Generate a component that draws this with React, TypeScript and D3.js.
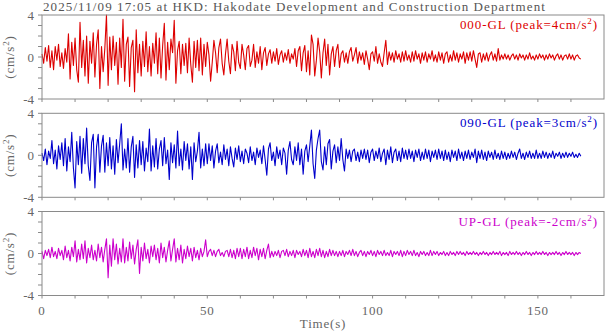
import React from 'react';
import * as d3 from 'd3';

// sample interval of the traces (s)
const dt = 0.5;

const title = '2025/11/09 17:05 at HKD: Hakodate Development and Construction Department';
const components = ['000-GL', '090-GL', 'UP-GL'];
const peaks = ['4', '3', '-2'];
const colors = ['#dd0000', '#0000cc', '#cc00cc'];
const xTickLabels = [0, 50, 100, 150];
const yTickLabels = [-4, 0, 4];

const ns = [
  0.3, -0.6, 0.9, -0.4, 1.1, -1.0, 0.6, -1.2, 1.0, -0.3, 1.2, -0.9, 0.4, -1.1, 0.8, -0.5, 2.2, -2.1, 1.4, -0.8,
  1.8, -1.2, -2.4, 3.3, -1.0, 1.6, -1.8, 2.0, -2.5, 1.5, -0.6, 2.3, -1.9, 1.2, 2.6, -3.0, 1.0, -1.4, 0.8, 4.0,
  -2.7, 1.9, -1.2, 2.0, -0.8, 1.4, -2.6, 1.8, -1.0, 3.6, -2.3, 1.2, 1.9, -2.8, 0.9, 1.6, -3.3, 2.6, -1.5, 1.2,
  -1.8, 1.5, -0.9, 2.4, -1.4, 1.0, -1.8, 1.3, -0.6, 2.3, -1.6, 1.8, -2.0, 1.1, 3.2, -2.2, 1.4, -1.2, 1.7, 0.4,
  3.5, -2.5, 0.6, 1.5, -1.6, 1.2, -0.8, 1.3, -1.5, 1.8, -0.7, -2.4, 1.5, -1.0, 1.6, -1.3, 1.8, -1.7, 1.2, -0.9,
  1.4, 0.2, -2.3, -0.5, 1.6, 0.4, -1.5, 0.9, 1.7, -0.6, -1.7, 0.3, 1.7, -0.4, -1.6, 1.2, 0.5, -1.3, 1.5, -0.5,
  -1.1, 1.2, 0.2, -1.2, 0.8, 1.1, -0.9, -0.3, 1.2, -1.0, 0.5, -0.6, 1.0, -1.2, 0.4, 0.9, -0.8, 0.3, 0.7, -0.6,
  0.5, -0.4, 0.8, -0.7, 0.2, 0.6, -0.5, 0.4, -0.3, 0.7, -0.6, 0.3, -0.2, 0.8, -0.9, 0.6, 1.0, -1.3, 0.4, 1.1,
  -1.4, 0.6, -1.7, 2.1, 1.2, -1.8, -0.3, 1.8, 0.5, -2.0, 0.4, 1.7, -0.8, 1.2, -1.7, 0.3, 1.0, -0.9, 0.6, 1.2,
  -1.0, 0.3, 0.6, -0.5, 0.4, -0.6, 0.5, 0.9, -0.4, 0.2, 0.9, -0.6, 0.5, -0.3, 0.4, -0.7, 0.6, -0.2, -1.2, 0.3,
  0.5, -0.4, 1.0, -0.6, 0.3, -0.5, -0.9, 0.4, 1.6, -0.7, 0.5, -0.3, 0.4, -0.5, 0.6, -0.2, 0.3, -0.5, 0.5, -0.4,
  0.6, -0.3, 0.2, -0.5, 0.5, -0.4, 0.6, -0.2, 0.3, -0.6, 0.4, -0.3, 0.5, -0.5, 0.3, -0.2, 0.6, -0.4, 0.2, -0.5,
  0.5, -0.3, 0.4, -0.6, 0.3, 0.5, -0.5, 0.2, -0.4, 0.6, -0.3, 0.4, -0.5, 0.3, -0.2, 0.5, -0.6, 0.4, -0.3, 0.5,
  -0.4, 0.6, -0.2, -1.0, 0.3, 0.4, -0.5, 0.3, -0.3, 0.4, -0.4, 0.2, 0.5, -0.3, 0.3, -0.4, 0.8, -0.3, 0.2, -0.2,
  0.3, -0.2, 0.2, -0.3, 0.1, 0.3, -0.2, 0.2, -0.3, 0.3, -0.1, 0.2, -0.3, 0.2, -0.2, 0.4, -0.2, 0.1, -0.3, 0.2,
  -0.2, 0.3, -0.1, 0.2, -0.3, 0.2, -0.2, 0.3, -0.1, 0.2, -0.3, 0.1, 0.3, -0.2, 0.2, -0.3, 0.1, 0.2, -0.2, 0.3,
  -0.2, 0.2, -0.3, 0.1, 0.2, -0.1, -0.2,
];

const ew = [
  0.2, -0.5, 0.6, -0.9, 0.4, -0.3, 1.4, -0.8, 0.5, -1.3, 0.9, -0.4, 1.2, -1.0, 1.6, -1.5, 0.8, -0.6, 2.2, -1.2,
  -3.1, 1.3, -0.9, 1.8, -1.7, 1.6, -0.8, 2.6, -1.0, -2.4, 1.2, 2.0, -3.1, 0.8, 2.0, -1.6, 0.9, 1.9, -1.6, 1.2,
  -1.0, 1.7, -1.3, 0.9, -1.8, 1.5, -0.7, 1.1, 3.0, -1.4, 0.6, -1.2, 1.6, -1.6, 0.8, 1.8, -2.1, 1.0, -1.2, 1.4,
  -0.9, 1.3, -1.5, 0.7, -0.6, 2.5, -1.5, 0.9, -1.1, 1.6, -1.3, 0.6, 1.4, -1.0, 1.7, -0.8, 0.5, -2.3, 1.2, -0.7,
  1.0, -1.2, 2.3, -1.0, 0.6, -1.4, 1.3, -0.5, 1.1, -1.3, 0.8, -2.3, 1.2, -0.6, 0.4, 2.2, -1.2, 0.6, -1.0, 1.1,
  -0.8, 1.1, -0.5, 0.9, -1.2, 0.4, 1.1, -0.7, 0.3, -0.9, 1.0, -0.4, 0.6, -1.0, 0.8, -0.3, -1.1, 0.7, -0.4, 0.9,
  -0.6, 0.4, -0.8, 0.6, 0.2, -0.7, 0.8, -0.5, 0.3, -0.9, 0.7, -0.2, 0.5, -0.8, 0.9, -0.4, -1.9, 0.6, 1.2, -0.5,
  0.3, -1.0, 0.8, -0.3, 0.5, -0.9, 0.7, 0.2, -1.8, 0.5, 1.3, -0.4, -0.9, 0.8, -0.5, 1.2, -0.9, 0.6, -1.8, 0.4,
  1.0, -0.6, 0.9, 2.4, -0.8, -2.2, 0.5, 1.6, 2.4, -0.6, -1.4, 0.8, -0.9, 1.1, 1.5, -1.3, 0.4, 1.0, -0.7, 0.8,
  -0.5, 1.6, -0.4, -1.5, 0.6, -0.3, 0.5, -0.6, 0.4, 0.6, -0.5, 0.3, -0.6, 0.5, -0.3, 0.6, -0.4, 0.5, -0.7, 0.3,
  0.6, -0.5, 0.4, -0.3, 0.7, -0.6, 0.2, 0.6, -0.9, 0.5, -0.4, 0.8, -0.7, 0.3, 0.6, -0.5, 0.4, -0.6, 0.7, -0.3,
  0.5, -0.4, 0.6, -0.3, 0.4, -0.6, 0.5, -0.2, 0.6, -0.5, 0.3, -0.4, 0.6, -0.3, 0.5, -0.6, 0.4, -0.2, 0.5, -0.4,
  0.6, -0.3, 0.4, -0.5, 0.5, -0.4, 0.3, -0.6, 0.5, -0.2, 0.4, -0.5, 0.6, -0.3, 0.3, -0.5, 0.4, -0.3, 0.5, -0.4,
  0.3, -0.2, 0.6, -0.7, 0.4, -0.3, 0.5, -0.4, 0.3, -0.5, 0.4, -0.2, 0.3, -0.4, 0.5, -0.3, 0.2, -0.4, 0.4, -0.3,
  0.3, -0.4, 0.2, -0.3, 0.4, -0.2, 0.3, -0.4, 0.2, 0.6, -0.3, 0.2, -0.4, 0.3, -0.2, 0.4, -0.3, 0.2, -0.3, 0.5,
  -0.3, 0.2, -0.3, 0.4, -0.2, 0.3, -0.3, 0.2, -0.2, 0.4, -0.3, 0.2, -0.1, 0.3, -0.3, 0.2, -0.2, 0.3, -0.2, 0.2,
  -0.1, 0.3, -0.2, 0.1, -0.2, 0.2, -0.1,
];

const ud = [
  0.2, -0.5, 0.3, -0.2, 0.4, -0.4, 0.6, -0.3, 0.2, -0.5, 0.5, -0.2, 0.3, -0.6, 0.7, -0.4, 0.3, -0.7, 0.6, -0.3,
  1.2, -0.8, 0.4, -0.6, 0.9, -0.5, 1.2, -0.9, 0.5, -0.4, 0.8, -0.6, 0.3, -0.7, 0.9, -0.4, 0.6, -0.8, 0.4, 1.4,
  -2.3, 0.8, -1.2, 1.4, -0.6, 0.9, -1.0, 0.5, -0.8, 1.4, -0.9, 0.6, -0.7, 1.1, -0.5, 0.8, -1.0, 0.4, 1.3, -1.9,
  0.6, -0.7, 1.0, -0.5, 0.4, -0.9, 0.7, -0.3, 0.8, -0.6, 0.5, -0.9, 1.0, -0.4, 0.6, -0.8, 0.3, 1.2, -0.7, 0.4,
  1.4, -0.8, 0.5, -0.6, 0.8, -0.9, 0.4, -0.5, 0.7, -0.3, 0.5, -0.7, 0.6, -0.4, 0.3, -0.6, 0.5, -0.3, 0.2, 1.3,
  -0.3, 0.2, 0.4, -0.2, 0.3, -0.3, 0.2, 0.4, -0.2, 0.1, -0.3, 0.2, 0.3, -0.3, 0.4, -0.4, 0.3, -0.5, 0.5, -0.3,
  0.5, -0.5, 0.4, -0.3, 0.6, -0.5, 0.3, -0.4, 0.6, -0.2, 0.5, -0.6, 0.4, -0.3, 0.5, -0.5, 0.3, 0.9, -0.4, 0.2,
  -0.3, 0.2, -0.2, 0.3, -0.4, 0.2, 0.3, -0.2, 0.4, -0.3, 0.2, -0.2, 0.3, -0.4, 0.3, -0.1, 0.2, -0.3, 0.4, -0.2,
  0.3, -0.4, 0.5, -0.3, 0.2, -0.4, 0.4, -0.2, 0.5, -0.3, 0.3, -0.4, 0.2, -0.3, 0.4, -0.2, 0.3, -0.2, 0.2, -0.3,
  0.2, -0.2, 0.3, -0.3, 0.2, -0.1, 0.3, -0.2, 0.4, -0.2, 0.2, -0.3, 0.1, 0.3, -0.2, 0.2, -0.3, 0.2, -0.1, 0.3,
  -0.2, 0.2, -0.3, 0.3, -0.1, 0.2, -0.2, 0.3, -0.2, 0.1, -0.2, 0.3, -0.3, 0.2, -0.1, 0.2, -0.2, 0.3, -0.3, 0.2,
  -0.2, 0.3, -0.1, 0.2, -0.2, 0.3, -0.2, 0.1, -0.3, 0.2, -0.1, 0.2, -0.2, 0.1, -0.2, 0.3, -0.2, 0.2, -0.1, 0.2,
  -0.2, 0.1, -0.1, 0.2, -0.2, 0.1, -0.2, 0.2, -0.1, 0.1, -0.2, 0.2, -0.1, 0.2, -0.1, 0.1, -0.2, 0.2, -0.1, 0.1,
  -0.1, 0.2, -0.1, 0.1, -0.2, 0.1, -0.1, 0.2, -0.1, 0.1, -0.2, 0.1, -0.1, 0.2, -0.1, 0.1, -0.1, 0.2, -0.2, 0.1,
  -0.1, 0.1, -0.2, 0.2, -0.1, 0.1, -0.1, 0.2, -0.1, 0.1, -0.2, 0.1, -0.1, 0.2, -0.1, 0.1, -0.2, 0.1, -0.1, 0.2,
  -0.1, 0.1, -0.1, 0.2, -0.1, 0.1, -0.2, 0.1, -0.1, 0.1, -0.1, 0.2, -0.1, 0.1, -0.2, 0.1, -0.1, 0.2, -0.1, 0.1,
  -0.1, 0.1, -0.2, 0.1, -0.1, 0.1, 0.0,
];

const traces = [ns, ew, ud];

const width = 605;
const height = 334;
const left = 42;
const right = 604;
const panelTops = [15, 113.3, 211.5];
const panelH = 84;

const axisColor = '#8a8a8a';
const textColor = '#666666';
const font = '"Liberation Serif", "Times New Roman", serif';

export default function App() {
  const x = d3.scaleLinear().domain([0, 170]).range([left, right]);
  const xMinor = d3.range(0, 170, 10);
  const yMinor = d3.range(-4, 5, 1);

  return (
    <svg
      width={width}
      height={height}
      style={{ position: 'absolute', left: 0, top: 0, background: '#fff' }}
      fontFamily={font}
    >
      <text x={43} y={11} fontSize={13} fill="#555" letterSpacing={1.1}>
        {title}
      </text>

      {traces.map((vals, k) => {
        const top = panelTops[k];
        const y = d3.scaleLinear().domain([-4, 4]).range([top + panelH, top]);
        const line = d3
          .line<number>()
          .x((_, i) => x(i * dt))
          .y(d => y(d));
        return (
          <g key={k}>
            <path d={line(vals) || ''} fill="none" stroke={colors[k]} strokeWidth={1.1} strokeLinejoin="round" />
            <rect x={left} y={top} width={right - left} height={panelH} fill="none" stroke={axisColor} strokeWidth={1} />
            {xMinor.map(t => (
              <line key={t} x1={x(t)} x2={x(t)} y1={top + panelH} y2={top + panelH + 3} stroke={axisColor} />
            ))}
            {yMinor.map(v => (
              <line key={v} x1={left - 4} x2={left} y1={y(v)} y2={y(v)} stroke={axisColor} />
            ))}
            {yTickLabels.map(v => (
              <text key={v} x={34} y={y(v)} dy="0.35em" textAnchor="end" fontSize={13} fill={textColor}>
                {v}
              </text>
            ))}
            <text
              transform={`translate(14,${top + panelH / 2}) rotate(-90)`}
              textAnchor="middle"
              fontSize={13}
              fill={textColor}
              letterSpacing={0.8}
            >
              (cm/s<tspan dy={-5} fontSize={9}>2</tspan>
              <tspan dy={5}>)</tspan>
            </text>
            <text x={598} y={top + 14} textAnchor="end" fontSize={13} fill={colors[k]} letterSpacing={0.9}>
              {components[k]} (peak={peaks[k]}cm/s<tspan dy={-5} fontSize={9}>2</tspan>
              <tspan dy={5}>)</tspan>
            </text>
          </g>
        );
      })}

      {xTickLabels.map(t => (
        <text key={t} x={x(t)} y={315} textAnchor="middle" fontSize={13} fill={textColor} letterSpacing={0.8}>
          {t}
        </text>
      ))}
      <text x={323} y={328} textAnchor="middle" fontSize={13} fill={textColor} letterSpacing={0.8}>
        Time(s)
      </text>
    </svg>
  );
}
